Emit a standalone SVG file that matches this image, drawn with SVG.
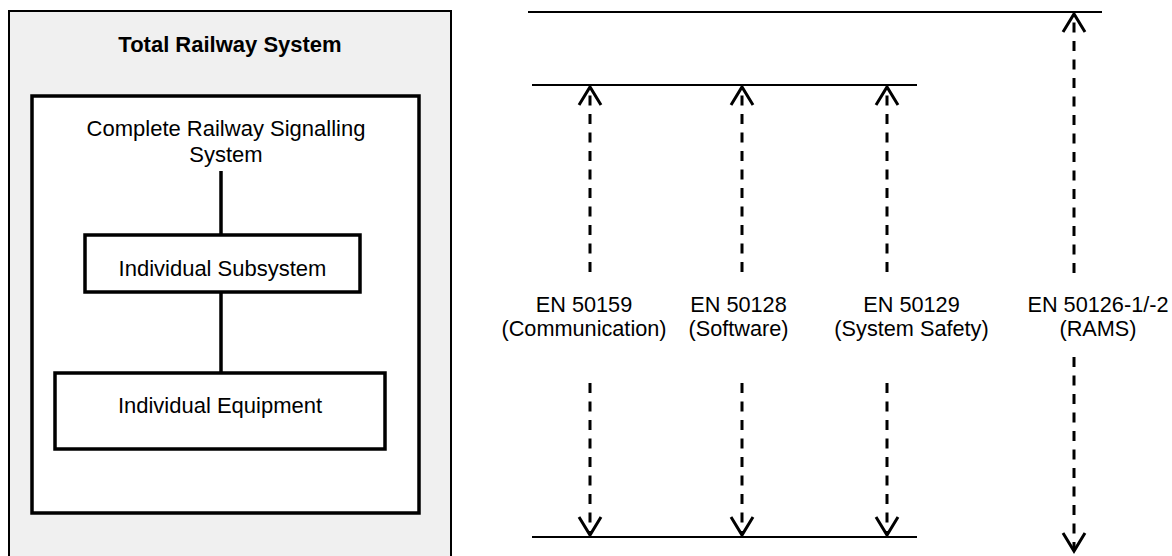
<svg xmlns="http://www.w3.org/2000/svg" width="1172" height="556" viewBox="0 0 1172 556">
<style>
text{font-family:"Liberation Sans",Arial,sans-serif;font-size:22px;fill:#000;text-anchor:middle}
.b{font-weight:bold}
.r{font-size:21.7px}
.box{fill:#fff;stroke:#000;stroke-width:3.5}
.solid{stroke:#000;stroke-width:3.5;fill:none}
.lvl{stroke:#000;stroke-width:2;fill:none}
.dash{stroke:#000;stroke-width:3;fill:none;stroke-dasharray:10 8.5}
</style>
<defs>
<marker id="ah" markerUnits="userSpaceOnUse" markerWidth="30" markerHeight="30" viewBox="-22 -15 26 30" refX="0" refY="0" orient="auto">
<path d="M-18,-11 L0,0 L-18,11" fill="none" stroke="#000" stroke-width="3" stroke-dasharray="none"/>
</marker>
</defs>
<g id="total-railway-system">
<rect x="9" y="11" width="442" height="560" fill="#f0f0f0" stroke="#000" stroke-width="2"/>
<text class="b" x="230" y="52">Total Railway System</text>
</g>
<g id="signalling-system">
<rect x="32" y="96" width="387" height="417" class="box"/>
<text x="226" y="136">Complete Railway Signalling</text>
<text x="226" y="162">System</text>
</g>
<g id="subsystem">
<rect x="85" y="235" width="275" height="57" class="box"/>
<text x="222.5" y="276">Individual Subsystem</text>
</g>
<g id="equipment">
<rect x="55" y="373" width="330" height="76" class="box"/>
<text x="220" y="413">Individual Equipment</text>
</g>
<g id="levels">
<line x1="528" y1="12" x2="1102" y2="12" class="lvl"/>
<line x1="532" y1="85" x2="917" y2="85" class="lvl"/>
<line x1="532" y1="537" x2="917" y2="537" class="lvl"/>
</g>
<g id="labels">
<text class="r" x="584" y="312">EN 50159</text>
<text class="r" x="584" y="336">(Communication)</text>
<text class="r" x="738.5" y="312">EN 50128</text>
<text class="r" x="738.5" y="336">(Software)</text>
<text class="r" x="911.5" y="312">EN 50129</text>
<text class="r" x="911.5" y="336">(System Safety)</text>
<text class="r" x="1098" y="312">EN 50126-1/-2</text>
<text class="r" x="1098" y="336">(RAMS)</text>
</g>
<g id="connectors">
<line x1="221" y1="171" x2="221" y2="235" class="solid"/>
<line x1="221" y1="292" x2="221" y2="373" class="solid"/>
<line x1="590" y1="272" x2="590" y2="87" class="dash" marker-end="url(#ah)"/>
<line x1="742" y1="272" x2="742" y2="87" class="dash" marker-end="url(#ah)"/>
<line x1="887" y1="272" x2="887" y2="87" class="dash" marker-end="url(#ah)"/>
<line x1="590" y1="383" x2="590" y2="535" class="dash" marker-end="url(#ah)"/>
<line x1="742" y1="383" x2="742" y2="535" class="dash" marker-end="url(#ah)"/>
<line x1="887" y1="383" x2="887" y2="535" class="dash" marker-end="url(#ah)"/>
<line x1="1074" y1="273" x2="1074" y2="14" class="dash" marker-end="url(#ah)"/>
<line x1="1074" y1="357" x2="1074" y2="551" class="dash" marker-end="url(#ah)"/>
</g>
</svg>
